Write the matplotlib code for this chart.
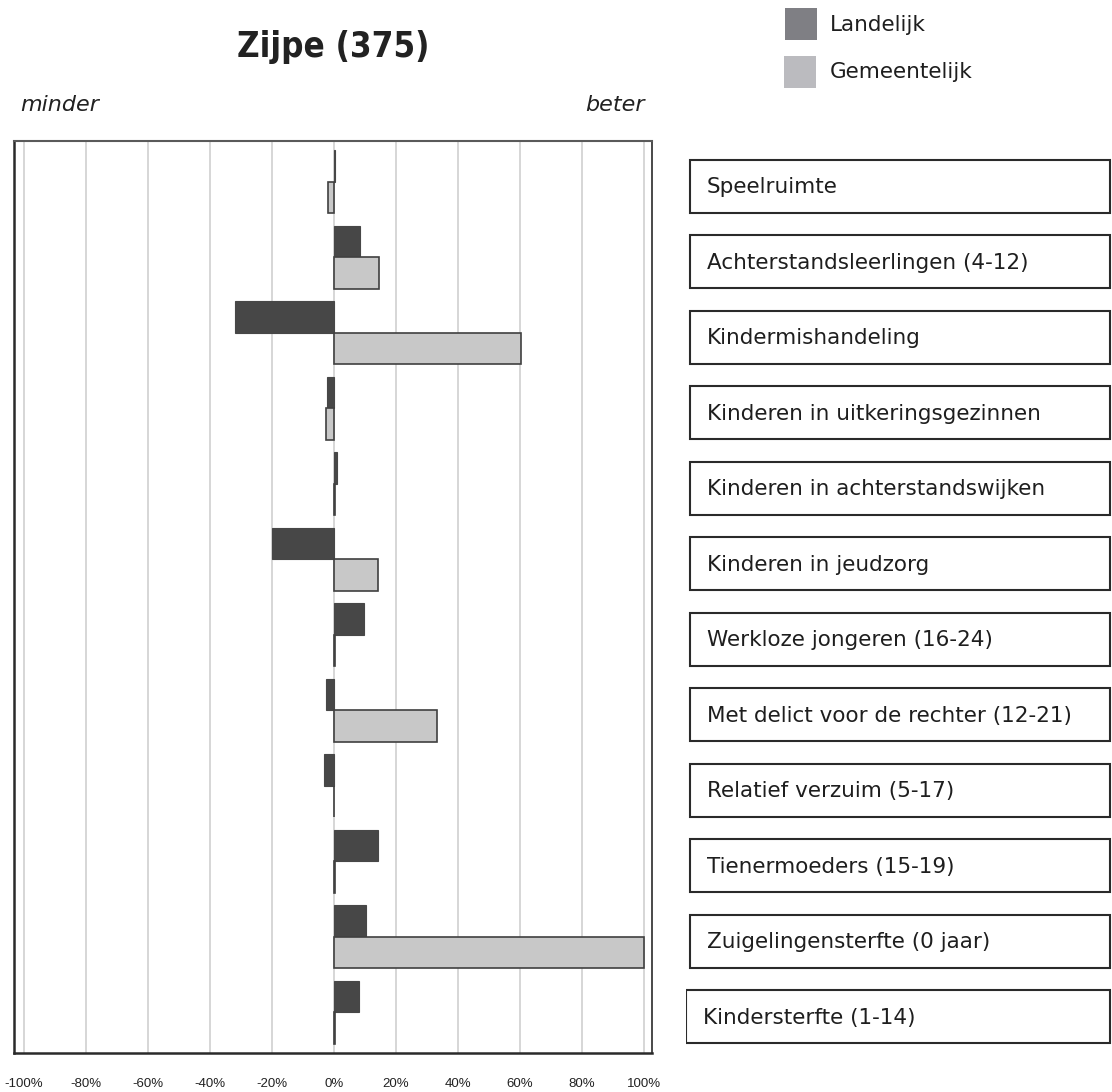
import matplotlib
matplotlib.use("Agg")
import matplotlib.pyplot as plt
from matplotlib.patches import Rectangle

# data
categories = ['Speelruimte', 'Achterstandsleerlingen (4-12)', 'Kindermishandeling',
              'Kinderen in uitkeringsgezinnen', 'Kinderen in achterstandswijken',
              'Kinderen in jeudzorg', 'Werkloze jongeren (16-24)',
              'Met delict voor de rechter (12-21)', 'Relatief verzuim (5-17)',
              'Tienermoeders (15-19)', 'Zuigelingensterfte (0 jaar)', 'Kindersterfte (1-14)']
landelijk = [0.3, 8.4, -32.0, -2.3, 1.1, -20.1, 9.7, -2.4, -3.1, 14.2, 10.2, 8.1]
gemeentelijk = [-1.8, 14.5, 60.5, -2.5, 0.2, 14.1, 0.5, 33.3, 0.0, 0.3, 100.0, 0.5]
ticks = [-100, -80, -60, -40, -20, 0, 20, 40, 60, 80, 100]
tick_labels = ['%d%%' % t for t in ticks]

W, H = 1112, 1092
fig = plt.figure(figsize=(W / 100, H / 100), dpi=100)

def fx(px):
    return px / W

def fy(py):
    return 1 - py / H

# main bar axes
ax = fig.add_axes([fx(14), fy(1053), fx(652 - 14), (1053 - 141) / H])
pos = list(range(len(categories)))
bh = 0.42
ax.barh([p - bh / 2 for p in pos], landelijk, height=bh, color='#474747',
        edgecolor='#474747', linewidth=0.8, zorder=3)
ax.barh([p + bh / 2 for p in pos], gemeentelijk, height=bh, color='#c8c8c8',
        edgecolor='#404040', linewidth=1.2, zorder=3)
ax.set_xlim(-103.2, 102.6)
ax.set_ylim(11.54, -0.54)
ax.set_yticks([])
ax.set_xticks(ticks)
ax.set_xticklabels(tick_labels, family='Liberation Sans', fontsize=9.5, color='#222222')
ax.tick_params(axis='x', length=0, pad=18)
ax.grid(axis='x', color='#cfcfcf', linewidth=1.2, zorder=0)
for side in ['left', 'bottom', 'right']:
    ax.spines[side].set_color('#2a2a2a')
    ax.spines[side].set_linewidth(1.8)
ax.spines['right'].set_linewidth(1.2)
ax.spines['top'].set_color('#5a5a5a')
ax.spines['top'].set_linewidth(1.5)

# category boxes on the right
bx = fig.add_axes([fx(686), fy(1053), fx(W - 686), (1053 - 141) / H])
bx.set_xlim(0, 1)
bx.set_ylim(11.54, -0.54)
bx.axis('off')
box_h = 0.70
for i, name in enumerate(categories):
    x0 = 0.0 if i == len(categories) - 1 else 0.009
    bx.add_patch(Rectangle((x0, i + 0.06 - box_h / 2), 0.995 - x0, box_h,
                           facecolor='white', edgecolor='#2a2a2a', linewidth=1.5))
    bx.text(x0 + 0.04, i + 0.07, name, fontsize=15.5, va='center', ha='left',
            color='#1e1e1e')

# title and direction labels
fig.text(fx(333), fy(47), 'Zijpe (375)', fontsize=25, fontweight='bold',
         fontstretch='condensed', ha='center', va='center', color='#222222')
fig.text(fx(20), fy(105), 'minder', fontsize=16, style='italic', ha='left',
         va='center', color='#222222')
fig.text(fx(645), fy(105), 'beter', fontsize=16, style='italic', ha='right',
         va='center', color='#222222')

# legend
fig.patches.append(Rectangle((fx(785), fy(40)), fx(32), 32 / H, facecolor='#7f7f84',
                             edgecolor='none', transform=fig.transFigure))
fig.patches.append(Rectangle((fx(784), fy(88)), fx(32), 32 / H, facecolor='#bbbbbf',
                             edgecolor='none', transform=fig.transFigure))
fig.text(fx(830), fy(25), 'Landelijk', fontsize=15.5, va='center', color='#1e1e1e')
fig.text(fx(830), fy(72), 'Gemeentelijk', fontsize=15.5, va='center', color='#1e1e1e')

fig.savefig('out.png', dpi=100)
